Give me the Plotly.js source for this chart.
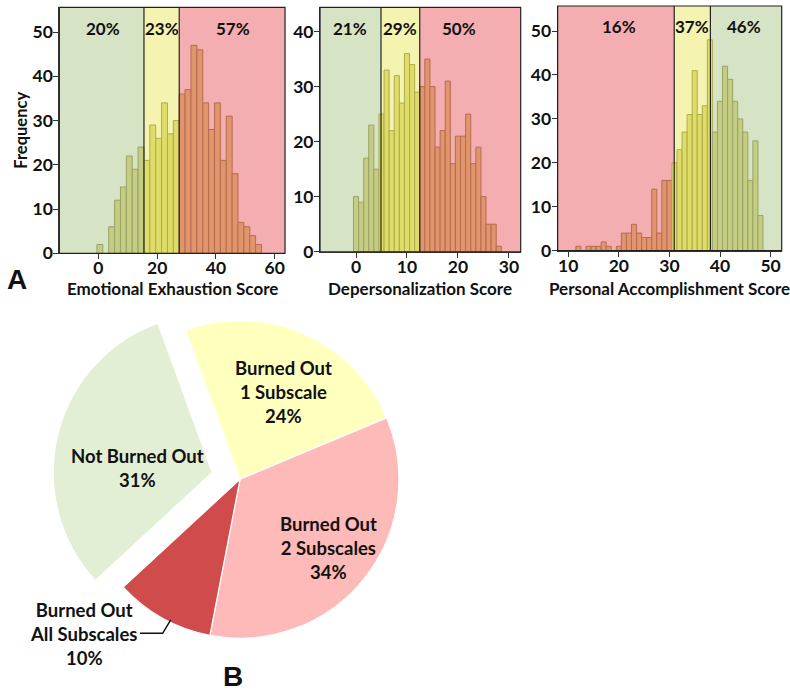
<!DOCTYPE html>
<html><head><meta charset="utf-8">
<script src="https://cdn.plot.ly/plotly-3.0.1.min.js"></script>
<style>
html,body{margin:0;padding:0;background:#fff;}
#chart{width:790px;height:691px;}
</style></head><body><div id="chart"></div>
<script>
// ---- data ----
const eeBins = [0.5,4.5,6.5,8.5,10.5,12.5,14.5,16.5,18.5,20.5,22.5,24.5,26.5,28.5,30.5,32.5,34.5,36.5,38.5,40.5,42.5,44.5,46.5,48.5,50.5,52.5,54.5];
const eeCounts = [2,6,12,15,22,19,24,21,29,26,34,27,30,36,37,47,46,34,28,34,21,31,18,7,6,4,2];
const dpBins = [0,1,2,3,4,5,6,7,8,9,10,11,12,13,14,15,16,17,18,19,20,21,22,23,24,25,26,27,28];
const dpCounts = [10,9,17,23,15,25,33,22,32,27,36,34,29,30,35,30,19,22,31,16,21,21,25,16,19,10,5,5,1];
const paBins = [12,14,15,16,17,18,20,21,22,23,24,25,26,27,28,29,30,31,32,33,34,35,36,37,38,39,40,41,42,43,44,45,46,47,48];
const paCounts = [1,1,1,1,2,1,1,4,4,6,4,3,3,14,4,16,16,20,23,27,31,41,31,33,48,27,34,42,39,34,30,27,16,25,8];
const eeCuts = [15.5, 27.5];
const dpCuts = [4.9, 12.5];
const paCuts = [30.95, 38.1];
const eePct = ['20%','23%','57%'];
const dpPct = ['21%','29%','50%'];
const paPct = ['16%','37%','46%'];
const eePctX = [1.6, 21.7, 45.8];
const dpPctX = [-1.2, 8.6, 20.2];
const paPctX = [20.0, 34.4, 44.7];
const xTitles = ['Emotional Exhaustion Score','Depersonalization Score','Personal Accomplishment Score'];
const pieLabels = ['Burned Out<br>1 Subscale','Burned Out<br>2 Subscales','Burned Out<br>All Subscales','Not Burned Out'];
const pieValues = [24, 34, 10, 31];

// ---- styling ----
const FONT = 'Lato, "DejaVu Sans", sans-serif';
const BG = {g: '#d6e4c5', y: '#f4f4b0', r: '#f4aeb1'};
const BAR = {g: '#c4cd82', y: '#dfdd68', r: '#e2946c'};
const EDGE = {g: '#9aa266', y: '#aeac4c', r: '#b36d4f'};
const panels = [
  {bins: eeBins, counts: eeCounts, cuts: eeCuts, pct: eePct, pctX: eePctX, width: 2,
   xr: [-13.3, 63.5], yr: [0, 55.6], xdom: [0.0751, 0.3608], ydom: [0.6334, 0.9894], dx: 20,
   regions: ['g', 'y', 'r']},
  {bins: dpBins, counts: dpCounts, cuts: dpCuts, pct: dpPct, pctX: dpPctX, width: 1,
   xr: [-7.06, 32.3], yr: [0, 44.4], xdom: [0.4051, 0.6591], ydom: [0.6357, 0.9894], dx: 10,
   regions: ['g', 'y', 'r']},
  {bins: paBins, counts: paCounts, cuts: paCuts, pct: paPct, pctX: paPctX, width: 1,
   xr: [7.9, 52.2], yr: [0, 55.7], xdom: [0.7059, 0.9895], ydom: [0.6372, 0.9913], dx: 10,
   regions: ['r', 'y', 'g']}
];

const traces = [];
const layout = {
  width: 790, height: 691,
  margin: {l: 0, r: 0, t: 0, b: 0},
  paper_bgcolor: '#fff', plot_bgcolor: '#fff',
  showlegend: false, bargap: 0,
  font: {family: FONT, color: '#111'},
  shapes: [], annotations: []
};

panels.forEach((p, i) => {
  const n = i === 0 ? '' : String(i + 1);
  const xa = 'x' + n, ya = 'y' + n;
  const reg = p.bins.map(b => p.regions[b < p.cuts[0] ? 0 : (b < p.cuts[1] ? 1 : 2)]);
  traces.push({
    type: 'bar', x: p.bins, y: p.counts, width: p.width,
    xaxis: xa, yaxis: ya,
    marker: {color: reg.map(r => BAR[r]), line: {color: reg.map(r => EDGE[r]), width: 1}},
    hoverinfo: 'x+y'
  });
  const axFont = {family: FONT, size: 17.5, weight: 'bold', color: '#111'};
  layout['xaxis' + n] = {
    domain: p.xdom, range: p.xr, anchor: ya,
    showgrid: false, zeroline: false, showline: true, linecolor: '#333', linewidth: 1,
    ticks: 'outside', ticklen: 5, tickcolor: '#333', dtick: p.dx, tick0: 0,
    tickfont: axFont, ticklabelstandoff: -6,
    title: {text: ''}
  };
  layout['yaxis' + n] = {
    domain: p.ydom, range: p.yr, anchor: xa,
    showgrid: false, zeroline: false, showline: true, linecolor: '#333', linewidth: 1,
    ticks: 'outside', ticklen: 5, tickcolor: '#333', dtick: 10, tick0: 0,
    tickfont: axFont, ticklabelstandoff: -3,
    title: i === 0 ? {text: 'Frequency', font: {family: FONT, size: 16.5, weight: 'bold', color: '#111'}, standoff: 0} : {text: ''}
  };
  // x-axis title, placed just under the tick labels
  layout.annotations.push({text: xTitles[i], xref: xa + ' domain', yref: 'paper', x: 0.5, y: 0.5825,
    xanchor: 'center', yanchor: 'middle', showarrow: false,
    font: {family: FONT, size: 17, weight: 'bold', color: '#111'}});
  const edges = [p.xr[0], p.cuts[0], p.cuts[1], p.xr[1]];
  for (let k = 0; k < 3; k++) {
    layout.shapes.push({type: 'rect', xref: xa, yref: ya + ' domain', x0: edges[k], x1: edges[k+1], y0: 0, y1: 1,
      fillcolor: BG[p.regions[k]], line: {width: 0}, layer: 'below'});
  }
  p.cuts.forEach(c => layout.shapes.push({type: 'line', xref: xa, yref: ya + ' domain', x0: c, x1: c, y0: 0, y1: 1,
    line: {color: '#222', width: 1.2}, layer: 'above'}));
  layout.shapes.push({type: 'rect', xref: xa + ' domain', yref: ya + ' domain', x0: 0, x1: 1, y0: 0, y1: 1,
    line: {color: '#222', width: 1.2}, fillcolor: 'rgba(0,0,0,0)', layer: 'above'});
  p.pct.forEach((t, k) => layout.annotations.push({text: t, xref: xa, yref: ya + ' domain', x: p.pctX[k], y: 0.915,
    xanchor: 'center', yanchor: 'middle', showarrow: false,
    font: {family: FONT, size: 17, weight: 'bold', color: '#111'}}));
});

// pie
traces.push({
  type: 'pie', values: pieValues, labels: pieLabels, sort: false, direction: 'clockwise', rotation: -20,
  pull: [0, 0, 0, 0.18], textinfo: 'none', hoverinfo: 'label+percent',
  marker: {colors: ['#ffffbe', '#feb9b9', '#d04b4b', '#e2efd4'], line: {color: '#fff', width: 1.2}},
  domain: {x: [0.0663, 0.5413], y: [0.0349, 0.5779]}
});
const pieTextPos = [[0.3586, 0.4332], [0.4156, 0.2069], [0.1063, 0.0832], [0.1738, 0.3227]];
pieLabels.forEach((l, k) => layout.annotations.push({
  text: l + '<br>' + pieValues[k] + '%', xref: 'paper', yref: 'paper', x: pieTextPos[k][0], y: pieTextPos[k][1],
  xanchor: 'center', yanchor: 'middle', showarrow: false, align: 'center',
  font: {family: FONT, size: 18.5, weight: 'bold', color: '#111'}
}));
layout.shapes.push({type: 'path', xref: 'paper', yref: 'paper',
  path: 'M 0.1772 0.0835 L 0.2059 0.0835 L 0.2161 0.1028', line: {color: '#111', width: 1.5}});

layout.annotations.push({text: 'A', xref: 'paper', yref: 'paper', x: 0.0215, y: 0.5955, xanchor: 'center', yanchor: 'middle', showarrow: false,
  font: {family: '"Liberation Sans", Arial, sans-serif', size: 28, weight: 'bold', color: '#111'}});
layout.annotations.push({text: 'B', xref: 'paper', yref: 'paper', x: 0.2949, y: 0.0203, xanchor: 'center', yanchor: 'middle', showarrow: false,
  font: {family: '"Liberation Sans", Arial, sans-serif', size: 28, weight: 'bold', color: '#111'}});

Plotly.newPlot('chart', traces, layout, {displayModeBar: false, staticPlot: true});
</script></body></html>
